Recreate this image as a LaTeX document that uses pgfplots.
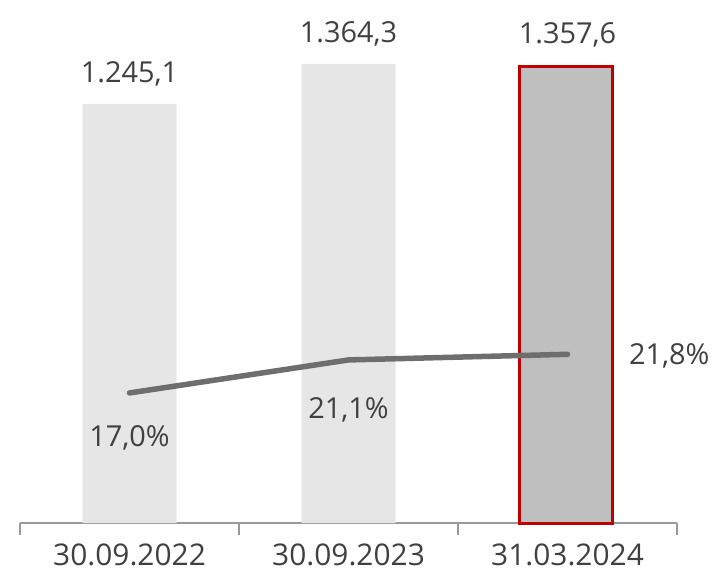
\documentclass[border=0pt]{standalone}
\usepackage{pgfplots}
\pgfplotsset{compat=1.18}
\usepackage{fontspec}
\setmainfont{Open Sans}
\usetikzlibrary{calc}

\definecolor{barlight}{HTML}{E6E6E6}
\definecolor{bardark}{HTML}{BFBFBF}
\definecolor{frame}{HTML}{C00000}
\definecolor{ratio}{HTML}{6E6E6E}
\definecolor{txt}{HTML}{404040}
\definecolor{axisgray}{HTML}{999999}

\newcommand{\lblfont}{\fontsize{29}{34}\selectfont}

\begin{document}
\begin{tikzpicture}
% volume bars (left scale)
\begin{axis}[
  name=main, at={(0,0)}, anchor=south west,
  width=657bp, height=523bp, scale only axis,
  xmin=-0.5, xmax=2.5, ymin=0, ymax=1554,
  axis y line=none, axis x line*=bottom,
  x axis line style={-, draw=axisgray, line width=1.2bp},
  xtick={0,1,2},
  xticklabels={30.09.2022,30.09.2023,31.03.2024},
  major tick length=0pt,
  xticklabel style={font=\fontsize{30}{36}\selectfont, text=txt, yshift=-17bp},
  extra x ticks={-0.5,0.5,1.5,2.5},
  extra x tick labels={},
  extra x tick style={major tick length=12bp, tick align=outside,
    tick style={draw=axisgray, line width=1.2bp}},
  clip=false,
  nodes near coords,
  every node near coord/.append style={font=\lblfont, text=txt, yshift=14bp},
  /pgf/number format/.cd, use comma, 1000 sep={.}, fixed, fixed zerofill,
  precision=1, assume math mode=true,
]
\addplot[ybar, bar width=94bp, bar shift=0pt, fill=barlight, draw=none]
  coordinates {(0,1245.1) (1,1364.3)};
\addplot[ybar, bar width=93bp, bar shift=-2bp, fill=bardark, draw=frame,
  line width=3bp]
  coordinates {(2,1357.6)};
\end{axis}
% ratio line (right scale, hidden)
\begin{axis}[
  at={(0,0)}, anchor=south west,
  width=657bp, height=523bp, scale only axis,
  xmin=-0.5, xmax=2.5, ymin=0.85, ymax=65.8,
  hide axis, clip=false,
]
\addplot[ratio, line width=5.5bp, line cap=round, line join=round]
  coordinates {(0,17.0) (1,21.1) (2,21.8)};
\node[font=\lblfont, text=txt, yshift=-45bp] at (axis cs:0,17.0) {17,0\%};
\node[font=\lblfont, text=txt, yshift=-50bp] at (axis cs:1,21.1) {21,1\%};
\node[font=\lblfont, text=txt, anchor=west, xshift=58bp, yshift=-2bp] at (axis cs:2,21.8) {21,8\%};
\end{axis}
\pgfresetboundingbox
\path[use as bounding box] ($(main.south west)+(-20bp,-56bp)$) rectangle ($(main.south west)+(700bp,523bp)$);
\end{tikzpicture}
\end{document}
